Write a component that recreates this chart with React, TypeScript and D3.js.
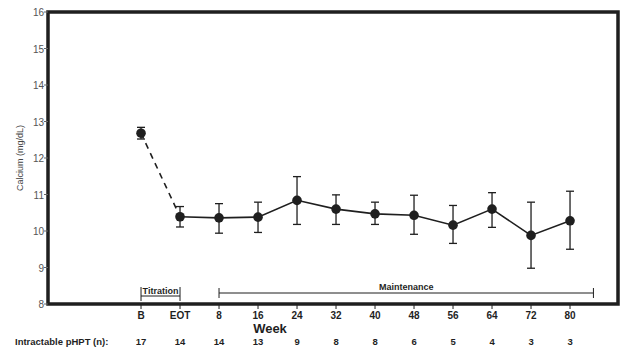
import * as d3 from 'd3';

const weeks = ['B', 'EOT', '8', '16', '24', '32', '40', '48', '56', '64', '72', '80'];
const calcium = [12.68, 10.39, 10.36, 10.38, 10.84, 10.6, 10.47, 10.43, 10.16, 10.6, 9.88, 10.28];
const upper = [12.84, 10.67, 10.75, 10.79, 11.49, 10.99, 10.79, 10.98, 10.7, 11.05, 10.79, 11.09];
const lower = [12.52, 10.11, 9.94, 9.96, 10.18, 10.18, 10.18, 9.91, 9.66, 10.1, 8.98, 9.5];
const nPatients = [17, 14, 14, 13, 9, 8, 8, 6, 5, 4, 3, 3];
const yTicks = [8, 9, 10, 11, 12, 13, 14, 15, 16];

export default function App() {
  const width = 644;
  const height = 351;
  const left = 48;
  const right = 618;
  const top = 12;
  const bottom = 304;

  // weeks sit on an index scale, B = 0
  const x = d3.scaleLinear().domain([-2.385, 12.23]).range([left, right]);
  const y = d3.scaleLinear().domain([8, 16]).range([bottom, top]);
  const maintEnd = 11.6;

  const pts = calcium.map((v, i) => ({ i, v }));
  const line = d3
    .line<{ i: number; v: number }>()
    .x((d) => x(d.i))
    .y((d) => y(d.v));

  const font = '"Liberation Sans", Arial, sans-serif';
  const ink = '#1f1f1f';
  const bracketY = 293;

  return (
    <svg width={width} height={height} style={{ position: 'absolute', left: 0, top: 0, background: '#fff' }} fontFamily={font}>
      {/* frame */}
      <rect x={left} y={top} width={right - left} height={bottom - top} fill="none" stroke={ink} strokeWidth={3.5} />

      {yTicks.map((t) => (
        <g key={t} transform={`translate(0,${y(t)})`}>
          <line x1={left - 4} x2={left} stroke="#666" strokeWidth={1} />
          <text x={left - 4} y={4} textAnchor="end" fontSize={10} fill="#555">
            {t}
          </text>
        </g>
      ))}
      <text transform={`translate(23,158) rotate(-90)`} textAnchor="middle" fontSize={9} fill="#444">
        Calcium (mg/dL)
      </text>

      {weeks.map((w, i) => (
        <g key={w} transform={`translate(${x(i)},0)`}>
          <line y1={bottom} y2={bottom + 5} stroke={ink} strokeWidth={1} />
          <text y={bottom + 15} textAnchor="middle" fontSize={10} fontWeight="bold" fill={ink}>
            {w}
          </text>
          <text y={345} textAnchor="middle" fontSize={9.5} fontWeight="bold" fill={ink}>
            {nPatients[i]}
          </text>
        </g>
      ))}
      <text x={270} y={333} textAnchor="middle" fontSize={13} fontWeight="bold" fill={ink}>
        Week
      </text>
      <text x={15} y={345} fontSize={9.5} fontWeight="bold" fill={ink}>
        Intractable pHPT (n):
      </text>

      {/* phase brackets */}
      <g stroke={ink} strokeWidth={1}>
        <line x1={x(0)} x2={x(1)} y1={bracketY + 3} y2={bracketY + 3} />
        <line x1={x(0)} x2={x(0)} y1={bracketY - 6} y2={bracketY + 8} />
        <line x1={x(1)} x2={x(1)} y1={bracketY - 6} y2={bracketY + 8} />
        <line x1={x(2)} x2={x(maintEnd)} y1={bracketY} y2={bracketY} />
        <line x1={x(2)} x2={x(2)} y1={bracketY - 5} y2={bracketY + 5} />
        <line x1={x(maintEnd)} x2={x(maintEnd)} y1={bracketY - 5} y2={bracketY + 5} />
      </g>
      <text x={(x(0) + x(1)) / 2} y={bracketY + 0.5} textAnchor="middle" fontSize={9} fontWeight="bold" fill={ink}>
        Titration
      </text>
      <text x={(x(2) + x(maintEnd)) / 2} y={bracketY - 3} textAnchor="middle" fontSize={9} fontWeight="bold" fill={ink}>
        Maintenance
      </text>

      {/* error bars */}
      {pts.map((d) => (
        <g key={d.i} stroke={ink} strokeWidth={1.3}>
          <line x1={x(d.i)} x2={x(d.i)} y1={y(upper[d.i])} y2={y(lower[d.i])} />
          <line x1={x(d.i) - 4} x2={x(d.i) + 4} y1={y(upper[d.i])} y2={y(upper[d.i])} />
          <line x1={x(d.i) - 4} x2={x(d.i) + 4} y1={y(lower[d.i])} y2={y(lower[d.i])} />
        </g>
      ))}

      <path d={line(pts.slice(0, 2)) ?? ''} fill="none" stroke={ink} strokeWidth={1.6} strokeDasharray="6 5" />
      <path d={line(pts.slice(1)) ?? ''} fill="none" stroke={ink} strokeWidth={1.6} />

      {pts.map((d) => (
        <circle key={d.i} cx={x(d.i)} cy={y(d.v)} r={4.8} fill={ink} />
      ))}
    </svg>
  );
}
